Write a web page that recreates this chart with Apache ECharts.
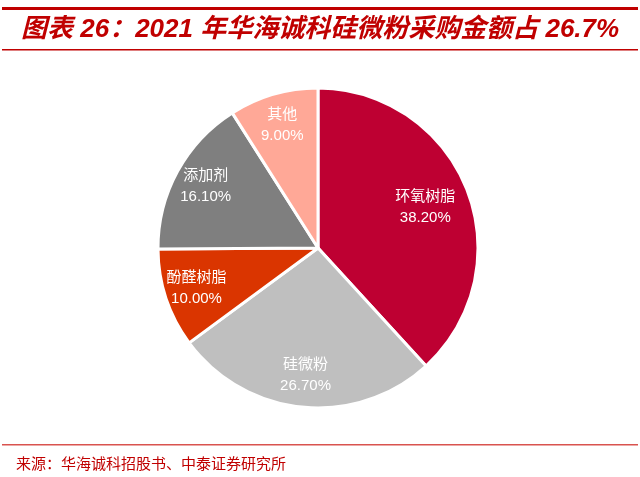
<!DOCTYPE html>
<html>
<head>
<meta charset="utf-8">
<script src="https://cdn.jsdelivr.net/npm/echarts@6/dist/echarts.min.js"></script>
<style>
  html, body { margin: 0; padding: 0; background: #fff; }
  #main { width: 640px; height: 477px; }
</style>
</head>
<body>
<div id="main"></div>
<script>
// 2021 年华海诚科原材料采购金额构成
var names = ['环氧树脂', '硅微粉', '酚醛树脂', '添加剂', '其他'];
var values = [38.2, 26.7, 10.0, 16.1, 9.0];
var colors = ['#BE0032', '#BFBFBF', '#DA3500', '#7F7F7F', '#FFA897'];

var pieData = names.map(function(n, i) {
    return { name: n, value: values[i], itemStyle: { color: colors[i] } };
});

var chart = echarts.init(document.getElementById('main'));
var option = {
    backgroundColor: '#fff',
    animation: false,
    title: {
        text: '图表 26：2021 年华海诚科硅微粉采购金额占 26.7%',
        left: 16,
        top: 12,
        textStyle: {
            color: '#C00000',
            fontSize: 26,
            fontStyle: 'italic',
            fontWeight: 'bold',
            fontFamily: 'Liberation Sans, Noto Sans CJK SC'
        }
    },
    graphic: [
        { type: 'rect', shape: { x: 2, y: 7, width: 636, height: 3 }, style: { fill: '#C00000' } },
        { type: 'rect', shape: { x: 2, y: 49, width: 636, height: 1.5 }, style: { fill: '#C00000' } },
        { type: 'rect', shape: { x: 2, y: 444, width: 636, height: 1.5 }, style: { fill: '#D9534F' } },
        {
            type: 'text', left: 16, top: 456,
            style: {
                text: '来源：华海诚科招股书、中泰证券研究所',
                fill: '#C00000',
                font: '15px "Noto Sans CJK SC"'
            }
        }
    ],
    series: [{
        type: 'pie',
        center: [318, 248],
        radius: [0, 160],
        startAngle: 90,
        clockwise: true,
        label: { show: false },
        labelLine: { show: false },
        itemStyle: { borderColor: '#fff', borderWidth: 3 },
        data: pieData
    }, {
        // 透明外圈，只用来把标签放在约 0.78r 处
        type: 'pie',
        center: [318, 248],
        radius: [0, 250],
        startAngle: 90,
        clockwise: true,
        silent: true,
        z: 3,
        itemStyle: { color: 'rgba(0,0,0,0)', borderWidth: 0 },
        label: {
            show: true,
            position: 'inside',
            color: '#fff',
            fontSize: 15,
            lineHeight: 21,
            fontFamily: 'Liberation Sans, Noto Sans CJK SC',
            formatter: function(p) {
                return p.name + '\n' + p.value.toFixed(2) + '%';
            }
        },
        labelLine: { show: false },
        data: names.map(function(n, i) {
            var d = { name: n, value: values[i] };
            if (i === 0) d.label = { offset: [-12, 6] };
            return d;
        })
    }]
};
chart.setOption(option);
</script>
</body>
</html>
